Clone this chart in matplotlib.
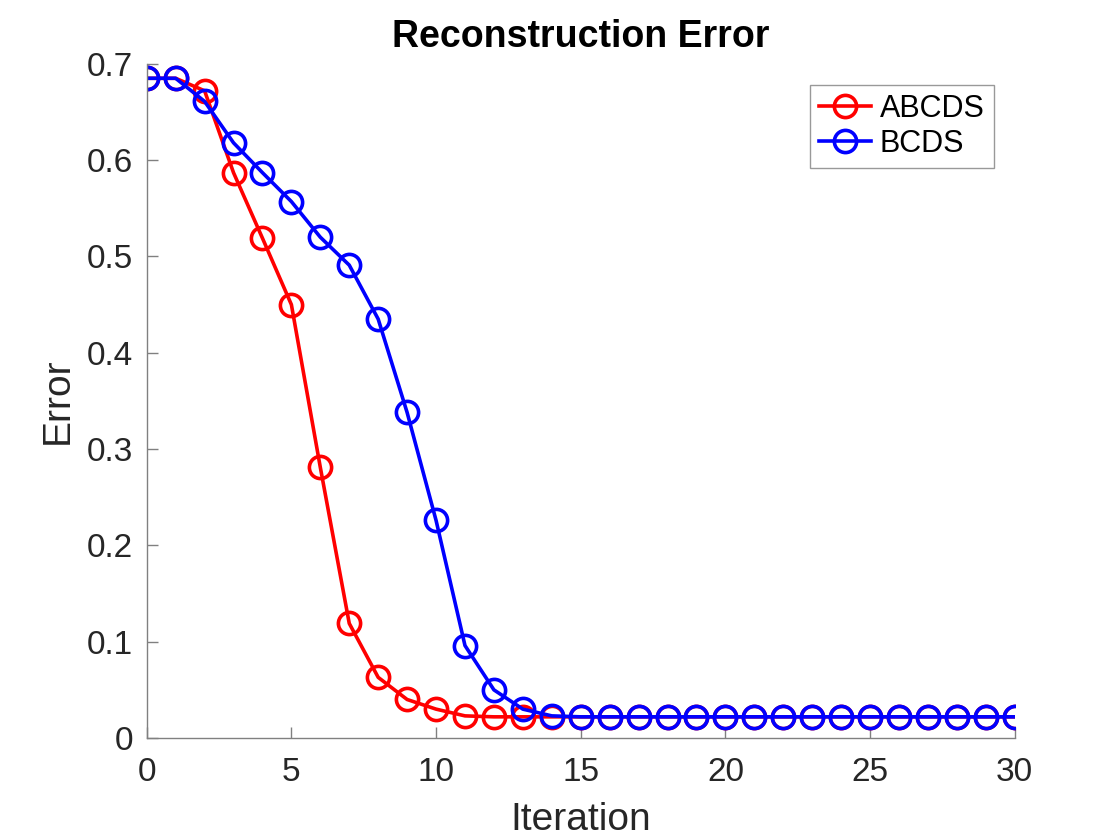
import numpy as np
import matplotlib.pyplot as plt

plt.rcParams['font.family'] = ['Liberation Sans', 'DejaVu Sans']

# Data
iterations = np.arange(0, 31)
abcds = [0.685, 0.685, 0.672, 0.587, 0.519, 0.450, 0.281, 0.119, 0.063, 0.040,
         0.030, 0.023, 0.022, 0.022, 0.022, 0.022, 0.022, 0.022, 0.022, 0.022,
         0.022, 0.022, 0.022, 0.022, 0.022, 0.022, 0.022, 0.022, 0.022, 0.022, 0.022]
bcds = [0.685, 0.685, 0.661, 0.618, 0.587, 0.557, 0.520, 0.491, 0.435, 0.338,
        0.226, 0.096, 0.050, 0.030, 0.023, 0.022, 0.022, 0.022, 0.022, 0.022,
        0.022, 0.022, 0.022, 0.022, 0.022, 0.022, 0.022, 0.022, 0.022, 0.022, 0.022]

fig = plt.figure(figsize=(11.2, 8.4), dpi=100)
ax = fig.add_axes([0.131, 0.1214, 0.775, 0.8026])

ax.plot(iterations, abcds, color="#ff0000", lw=2.6, marker="o", ms=16,
        mfc="none", mew=2.6, label="ABCDS")
ax.plot(iterations, bcds, color="#0000ff", lw=2.6, marker="o", ms=16,
        mfc="none", mew=2.6, label="BCDS")

ax.set_xlim(0, 30)
ax.set_ylim(0, 0.7)
ax.set_xticks(np.arange(0, 31, 5))
ax.set_yticks(np.arange(0, 0.71, 0.1))
ax.set_yticklabels(["0", "0.1", "0.2", "0.3", "0.4", "0.5", "0.6", "0.7"])

for s in ["top", "right"]:
    ax.spines[s].set_visible(False)
for s in ["left", "bottom"]:
    ax.spines[s].set_color("#808080")
    ax.spines[s].set_linewidth(1.0)
ax.tick_params(direction="in", length=8, width=1, color="#808080",
               labelsize=24, labelcolor="#262626")
ax.tick_params(axis="x", pad=14)
ax.tick_params(axis="y", pad=10)
ax.set_clip_on(False)

ax.set_xlabel("Iteration", fontsize=28, color="#262626", labelpad=10)
ax.set_ylabel("Error", fontsize=28, color="#262626", labelpad=8)
ax.set_title("Reconstruction Error", fontsize=27, fontweight="bold", pad=12)

leg = ax.legend(loc="upper right", bbox_to_anchor=(0.983, 0.978), fontsize=22,
                fancybox=False, edgecolor="#808080", handlelength=1.7,
                borderpad=0.3, labelspacing=0.15, handletextpad=0.3,
                borderaxespad=0.2)
leg.get_frame().set_linewidth(1.0)

fig.savefig("out.png", dpi=100)
